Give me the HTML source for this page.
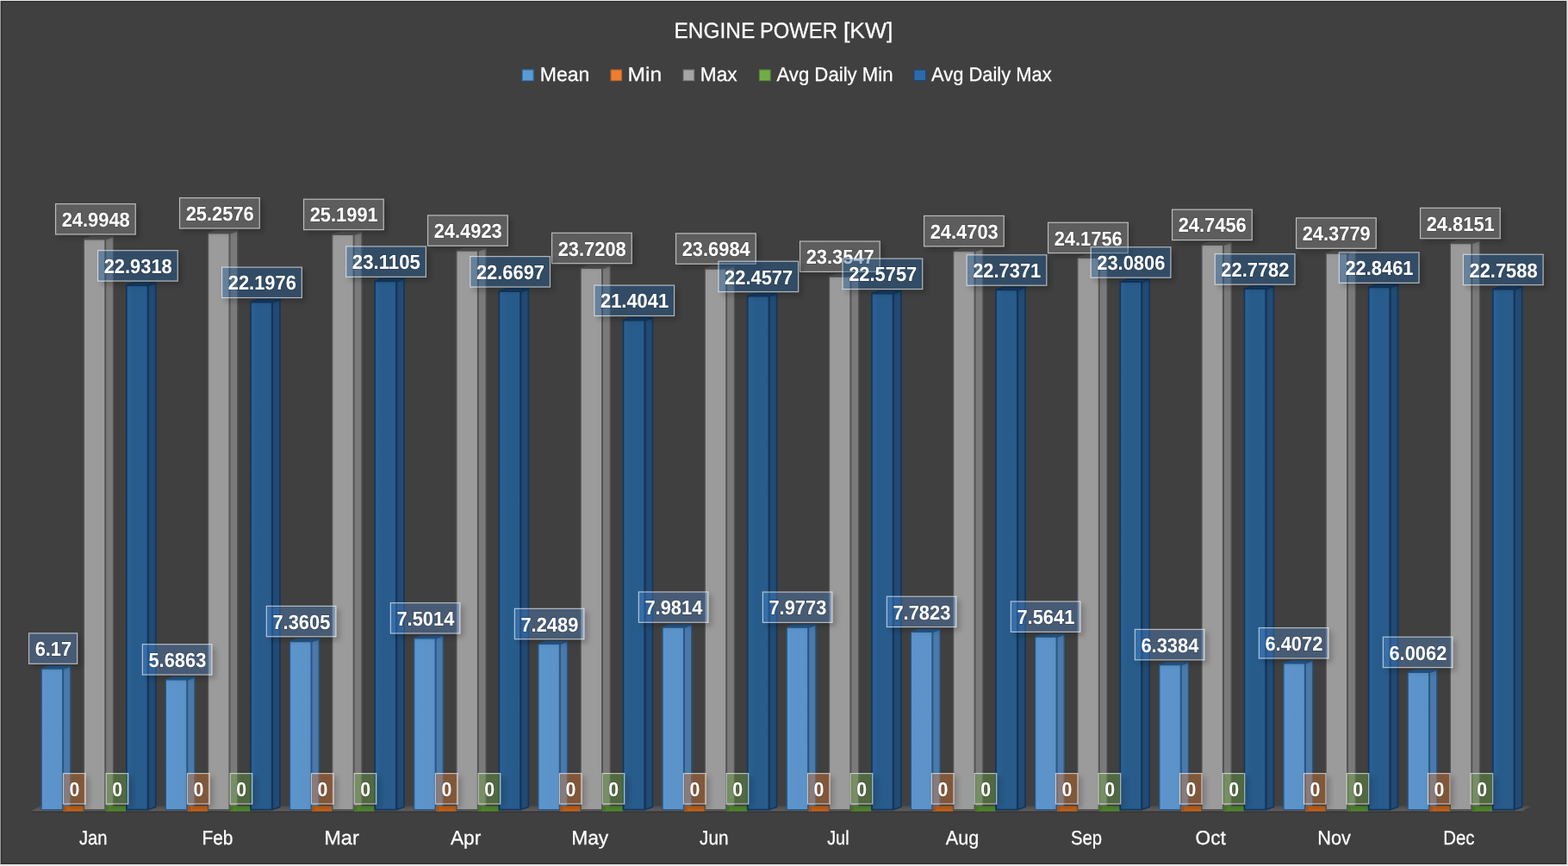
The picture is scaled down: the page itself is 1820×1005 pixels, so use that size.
<!DOCTYPE html>
<html lang="en"><head><meta charset="utf-8"><title>Engine Power [kW]</title>
<style>
html,body{margin:0;padding:0;background:#404040;overflow:hidden}
body{width:1820px;height:1005px}
svg{display:block}
text{font-family:"Liberation Sans",sans-serif;fill:#fff;text-rendering:geometricPrecision}
.dl{font-weight:bold;font-size:23.4px;stroke:#000;stroke-opacity:0.16;stroke-width:1.6px;paint-order:stroke}
.ax{font-size:22.8px;fill:#fff;stroke:#fff;stroke-width:0.25px}
.lg{font-size:22.8px;fill:#fff;stroke:#fff;stroke-width:0.25px}
.tt{font-size:25.4px;fill:#fff;stroke:#fff;stroke-width:0.25px}
</style></head><body>
<svg width="1820" height="1005" viewBox="0 0 1820 1005" role="img" aria-label="Engine Power [kW] by month">
<defs>
<filter id="sh" x="-40%" y="-50%" width="200%" height="220%"><feGaussianBlur in="SourceAlpha" stdDeviation="3.4"/><feOffset dx="4" dy="4"/><feComponentTransfer><feFuncA type="linear" slope="0.21"/></feComponentTransfer><feComposite in2="SourceAlpha" operator="out"/></filter>
<linearGradient id="fl" x1="0" y1="0" x2="0" y2="1"><stop offset="0" stop-color="#4c4a4a"/><stop offset="1" stop-color="#646060"/></linearGradient>
<linearGradient id="g0" x1="0" y1="0" x2="1" y2="0"><stop offset="0" stop-color="#5b95cd"/><stop offset="1" stop-color="#5c92c6"/></linearGradient>
<linearGradient id="g4" x1="0" y1="0" x2="1" y2="0"><stop offset="0" stop-color="#2b6195"/><stop offset="0.35" stop-color="#275b8b"/><stop offset="1" stop-color="#295c8b"/></linearGradient>
</defs>
<rect x="0" y="0" width="1820" height="1005" fill="#e6e6e6"/>
<rect x="0" y="1" width="1.2" height="1002" fill="#9a9a9a"/>
<rect x="1" y="1" width="1817.4" height="1002" fill="#333"/>
<rect x="2" y="2" width="1815.4" height="1000" fill="#383838"/>
<rect x="3" y="3" width="1813.6" height="998.2" fill="#404040"/>
<g>
<rect x="4" y="4" width="1812" height="996" fill="#404040"/>
<text class="tt" y="44.3"><tspan x="782.5" textLength="93.8" lengthAdjust="spacingAndGlyphs">ENGINE</tspan> <tspan x="881.9" textLength="90.0" lengthAdjust="spacingAndGlyphs">POWER</tspan> <tspan x="978.9" textLength="57.4" lengthAdjust="spacingAndGlyphs">[KW]</tspan></text>
<rect x="606.35" y="81.05" width="12.7" height="12.5" fill="#5b9bd5" stroke="#3a74ad" stroke-width="1.1"/>
<text class="lg" x="626.8" y="93.9" textLength="57.6" lengthAdjust="spacingAndGlyphs">Mean</text>
<rect x="709.05" y="81.05" width="12.5" height="12.5" fill="#ed7d31" stroke="#b4632a" stroke-width="1.1"/>
<text class="lg" x="728.6" y="93.9" textLength="39.6" lengthAdjust="spacingAndGlyphs">Min</text>
<rect x="793.15" y="81.05" width="12.5" height="12.5" fill="#a5a5a5" stroke="#7a7a7a" stroke-width="1.1"/>
<text class="lg" x="812.8" y="93.9" textLength="42.8" lengthAdjust="spacingAndGlyphs">Max</text>
<rect x="881.45" y="81.05" width="12.7" height="12.5" fill="#70ad47" stroke="#55853a" stroke-width="1.1"/>
<text class="lg" x="901.4" y="93.9" textLength="135.2" lengthAdjust="spacingAndGlyphs">Avg Daily Min</text>
<rect x="1060.95" y="81.05" width="13.7" height="12.5" fill="#2b6bab" stroke="#1d4670" stroke-width="1.1"/>
<text class="lg" x="1081" y="93.9" textLength="139.6" lengthAdjust="spacingAndGlyphs">Avg Daily Max</text>
<polygon points="35.5,941.8 47,935.2 1777.5,935.2 1766,941.8" fill="url(#fl)"/>
<rect x="36" y="941.3" width="1730" height="1.9" fill="#393939"/>
<polygon points="73.45,776.03 81.75,773.03 81.75,936.55 73.45,939.55" fill="#4a79aa" stroke="#255789" stroke-width="1.3" stroke-linejoin="round"/>
<polygon points="48.15,776.03 56.45,773.03 81.75,773.03 73.45,776.03" fill="#28578a" stroke="#255789" stroke-width="1.3" stroke-linejoin="round"/>
<rect x="48.15" y="776.03" width="24.6" height="163.52" fill="url(#g0)" stroke="#255789" stroke-width="1.3" stroke-linejoin="round"/>
<rect x="73.7" y="935.2" width="23.2" height="6.4" fill="#c4631a"/>
<rect x="73.7" y="935.2" width="3.2" height="6.4" fill="#aa551b"/>
<polygon points="122.65,277.74 131.55,274.74 131.55,936.55 122.65,939.55" fill="#7a7a7a" stroke="#545454" stroke-width="1.3" stroke-linejoin="round"/>
<polygon points="97.35,277.74 106.25,274.74 131.55,274.74 122.65,277.74" fill="#505050" stroke="#545454" stroke-width="1.3" stroke-linejoin="round"/>
<rect x="97.35" y="277.74" width="24.6" height="661.81" fill="#9b9b9b" stroke="#545454" stroke-width="1.3" stroke-linejoin="round"/>
<rect x="122.9" y="935.2" width="23.2" height="6.4" fill="#528830"/>
<rect x="122.9" y="935.2" width="3.2" height="6.4" fill="#46772a"/>
<polygon points="172.15,331.15 180.75,328.15 180.75,936.55 172.15,939.55" fill="#224a73" stroke="#12375d" stroke-width="1.7" stroke-linejoin="round"/>
<polygon points="146.85,331.15 155.45,328.15 180.75,328.15 172.15,331.15" fill="#1a426c" stroke="#12375d" stroke-width="1.7" stroke-linejoin="round"/>
<rect x="146.85" y="331.15" width="24.6" height="608.4" fill="url(#g4)" stroke="#12375d" stroke-width="1.7" stroke-linejoin="round"/>
<polygon points="217.63,788.83 225.93,785.83 225.93,936.55 217.63,939.55" fill="#4a79aa" stroke="#255789" stroke-width="1.3" stroke-linejoin="round"/>
<polygon points="192.33,788.83 200.63,785.83 225.93,785.83 217.63,788.83" fill="#28578a" stroke="#255789" stroke-width="1.3" stroke-linejoin="round"/>
<rect x="192.33" y="788.83" width="24.6" height="150.72" fill="url(#g0)" stroke="#255789" stroke-width="1.3" stroke-linejoin="round"/>
<rect x="217.88" y="935.2" width="23.2" height="6.4" fill="#c4631a"/>
<rect x="217.88" y="935.2" width="3.2" height="6.4" fill="#aa551b"/>
<polygon points="266.83,270.78 275.73,267.78 275.73,936.55 266.83,939.55" fill="#7a7a7a" stroke="#545454" stroke-width="1.3" stroke-linejoin="round"/>
<polygon points="241.53,270.78 250.43,267.78 275.73,267.78 266.83,270.78" fill="#505050" stroke="#545454" stroke-width="1.3" stroke-linejoin="round"/>
<rect x="241.53" y="270.78" width="24.6" height="668.77" fill="#9b9b9b" stroke="#545454" stroke-width="1.3" stroke-linejoin="round"/>
<rect x="267.08" y="935.2" width="23.2" height="6.4" fill="#528830"/>
<rect x="267.08" y="935.2" width="3.2" height="6.4" fill="#46772a"/>
<polygon points="316.33,350.58 324.93,347.58 324.93,936.55 316.33,939.55" fill="#224a73" stroke="#12375d" stroke-width="1.7" stroke-linejoin="round"/>
<polygon points="291.03,350.58 299.63,347.58 324.93,347.58 316.33,350.58" fill="#1a426c" stroke="#12375d" stroke-width="1.7" stroke-linejoin="round"/>
<rect x="291.03" y="350.58" width="24.6" height="588.97" fill="url(#g4)" stroke="#12375d" stroke-width="1.7" stroke-linejoin="round"/>
<polygon points="361.81,744.52 370.11,741.52 370.11,936.55 361.81,939.55" fill="#4a79aa" stroke="#255789" stroke-width="1.3" stroke-linejoin="round"/>
<polygon points="336.51,744.52 344.81,741.52 370.11,741.52 361.81,744.52" fill="#28578a" stroke="#255789" stroke-width="1.3" stroke-linejoin="round"/>
<rect x="336.51" y="744.52" width="24.6" height="195.03" fill="url(#g0)" stroke="#255789" stroke-width="1.3" stroke-linejoin="round"/>
<rect x="362.06" y="935.2" width="23.2" height="6.4" fill="#c4631a"/>
<rect x="362.06" y="935.2" width="3.2" height="6.4" fill="#aa551b"/>
<polygon points="411.01,272.33 419.91,269.33 419.91,936.55 411.01,939.55" fill="#7a7a7a" stroke="#545454" stroke-width="1.3" stroke-linejoin="round"/>
<polygon points="385.71,272.33 394.61,269.33 419.91,269.33 411.01,272.33" fill="#505050" stroke="#545454" stroke-width="1.3" stroke-linejoin="round"/>
<rect x="385.71" y="272.33" width="24.6" height="667.22" fill="#9b9b9b" stroke="#545454" stroke-width="1.3" stroke-linejoin="round"/>
<rect x="411.26" y="935.2" width="23.2" height="6.4" fill="#528830"/>
<rect x="411.26" y="935.2" width="3.2" height="6.4" fill="#46772a"/>
<polygon points="460.51,326.42 469.11,323.42 469.11,936.55 460.51,939.55" fill="#224a73" stroke="#12375d" stroke-width="1.7" stroke-linejoin="round"/>
<polygon points="435.21,326.42 443.81,323.42 469.11,323.42 460.51,326.42" fill="#1a426c" stroke="#12375d" stroke-width="1.7" stroke-linejoin="round"/>
<rect x="435.21" y="326.42" width="24.6" height="613.13" fill="url(#g4)" stroke="#12375d" stroke-width="1.7" stroke-linejoin="round"/>
<polygon points="505.99,740.79 514.29,737.79 514.29,936.55 505.99,939.55" fill="#4a79aa" stroke="#255789" stroke-width="1.3" stroke-linejoin="round"/>
<polygon points="480.69,740.79 488.99,737.79 514.29,737.79 505.99,740.79" fill="#28578a" stroke="#255789" stroke-width="1.3" stroke-linejoin="round"/>
<rect x="480.69" y="740.79" width="24.6" height="198.76" fill="url(#g0)" stroke="#255789" stroke-width="1.3" stroke-linejoin="round"/>
<rect x="506.24" y="935.2" width="23.2" height="6.4" fill="#c4631a"/>
<rect x="506.24" y="935.2" width="3.2" height="6.4" fill="#aa551b"/>
<polygon points="555.19,291.04 564.09,288.04 564.09,936.55 555.19,939.55" fill="#7a7a7a" stroke="#545454" stroke-width="1.3" stroke-linejoin="round"/>
<polygon points="529.89,291.04 538.79,288.04 564.09,288.04 555.19,291.04" fill="#505050" stroke="#545454" stroke-width="1.3" stroke-linejoin="round"/>
<rect x="529.89" y="291.04" width="24.6" height="648.51" fill="#9b9b9b" stroke="#545454" stroke-width="1.3" stroke-linejoin="round"/>
<rect x="555.44" y="935.2" width="23.2" height="6.4" fill="#528830"/>
<rect x="555.44" y="935.2" width="3.2" height="6.4" fill="#46772a"/>
<polygon points="604.69,338.08 613.29,335.08 613.29,936.55 604.69,939.55" fill="#224a73" stroke="#12375d" stroke-width="1.7" stroke-linejoin="round"/>
<polygon points="579.39,338.08 587.99,335.08 613.29,335.08 604.69,338.08" fill="#1a426c" stroke="#12375d" stroke-width="1.7" stroke-linejoin="round"/>
<rect x="579.39" y="338.08" width="24.6" height="601.47" fill="url(#g4)" stroke="#12375d" stroke-width="1.7" stroke-linejoin="round"/>
<polygon points="650.17,747.47 658.47,744.47 658.47,936.55 650.17,939.55" fill="#4a79aa" stroke="#255789" stroke-width="1.3" stroke-linejoin="round"/>
<polygon points="624.87,747.47 633.17,744.47 658.47,744.47 650.17,747.47" fill="#28578a" stroke="#255789" stroke-width="1.3" stroke-linejoin="round"/>
<rect x="624.87" y="747.47" width="24.6" height="192.08" fill="url(#g0)" stroke="#255789" stroke-width="1.3" stroke-linejoin="round"/>
<rect x="650.42" y="935.2" width="23.2" height="6.4" fill="#c4631a"/>
<rect x="650.42" y="935.2" width="3.2" height="6.4" fill="#aa551b"/>
<polygon points="699.37,311.46 708.27,308.46 708.27,936.55 699.37,939.55" fill="#7a7a7a" stroke="#545454" stroke-width="1.3" stroke-linejoin="round"/>
<polygon points="674.07,311.46 682.97,308.46 708.27,308.46 699.37,311.46" fill="#505050" stroke="#545454" stroke-width="1.3" stroke-linejoin="round"/>
<rect x="674.07" y="311.46" width="24.6" height="628.09" fill="#9b9b9b" stroke="#545454" stroke-width="1.3" stroke-linejoin="round"/>
<rect x="699.62" y="935.2" width="23.2" height="6.4" fill="#528830"/>
<rect x="699.62" y="935.2" width="3.2" height="6.4" fill="#46772a"/>
<polygon points="748.87,371.58 757.47,368.58 757.47,936.55 748.87,939.55" fill="#224a73" stroke="#12375d" stroke-width="1.7" stroke-linejoin="round"/>
<polygon points="723.57,371.58 732.17,368.58 757.47,368.58 748.87,371.58" fill="#1a426c" stroke="#12375d" stroke-width="1.7" stroke-linejoin="round"/>
<rect x="723.57" y="371.58" width="24.6" height="567.97" fill="url(#g4)" stroke="#12375d" stroke-width="1.7" stroke-linejoin="round"/>
<polygon points="794.35,728.08 802.65,725.08 802.65,936.55 794.35,939.55" fill="#4a79aa" stroke="#255789" stroke-width="1.3" stroke-linejoin="round"/>
<polygon points="769.05,728.08 777.35,725.08 802.65,725.08 794.35,728.08" fill="#28578a" stroke="#255789" stroke-width="1.3" stroke-linejoin="round"/>
<rect x="769.05" y="728.08" width="24.6" height="211.47" fill="url(#g0)" stroke="#255789" stroke-width="1.3" stroke-linejoin="round"/>
<rect x="794.6" y="935.2" width="23.2" height="6.4" fill="#c4631a"/>
<rect x="794.6" y="935.2" width="3.2" height="6.4" fill="#aa551b"/>
<polygon points="843.55,312.05 852.45,309.05 852.45,936.55 843.55,939.55" fill="#7a7a7a" stroke="#545454" stroke-width="1.3" stroke-linejoin="round"/>
<polygon points="818.25,312.05 827.15,309.05 852.45,309.05 843.55,312.05" fill="#505050" stroke="#545454" stroke-width="1.3" stroke-linejoin="round"/>
<rect x="818.25" y="312.05" width="24.6" height="627.5" fill="#9b9b9b" stroke="#545454" stroke-width="1.3" stroke-linejoin="round"/>
<rect x="843.8" y="935.2" width="23.2" height="6.4" fill="#528830"/>
<rect x="843.8" y="935.2" width="3.2" height="6.4" fill="#46772a"/>
<polygon points="893.05,343.69 901.65,340.69 901.65,936.55 893.05,939.55" fill="#224a73" stroke="#12375d" stroke-width="1.7" stroke-linejoin="round"/>
<polygon points="867.75,343.69 876.35,340.69 901.65,340.69 893.05,343.69" fill="#1a426c" stroke="#12375d" stroke-width="1.7" stroke-linejoin="round"/>
<rect x="867.75" y="343.69" width="24.6" height="595.86" fill="url(#g4)" stroke="#12375d" stroke-width="1.7" stroke-linejoin="round"/>
<polygon points="938.53,728.19 946.83,725.19 946.83,936.55 938.53,939.55" fill="#4a79aa" stroke="#255789" stroke-width="1.3" stroke-linejoin="round"/>
<polygon points="913.23,728.19 921.53,725.19 946.83,725.19 938.53,728.19" fill="#28578a" stroke="#255789" stroke-width="1.3" stroke-linejoin="round"/>
<rect x="913.23" y="728.19" width="24.6" height="211.36" fill="url(#g0)" stroke="#255789" stroke-width="1.3" stroke-linejoin="round"/>
<rect x="938.78" y="935.2" width="23.2" height="6.4" fill="#c4631a"/>
<rect x="938.78" y="935.2" width="3.2" height="6.4" fill="#aa551b"/>
<polygon points="987.73,321.15 996.63,318.15 996.63,936.55 987.73,939.55" fill="#7a7a7a" stroke="#545454" stroke-width="1.3" stroke-linejoin="round"/>
<polygon points="962.43,321.15 971.33,318.15 996.63,318.15 987.73,321.15" fill="#505050" stroke="#545454" stroke-width="1.3" stroke-linejoin="round"/>
<rect x="962.43" y="321.15" width="24.6" height="618.4" fill="#9b9b9b" stroke="#545454" stroke-width="1.3" stroke-linejoin="round"/>
<rect x="987.98" y="935.2" width="23.2" height="6.4" fill="#528830"/>
<rect x="987.98" y="935.2" width="3.2" height="6.4" fill="#46772a"/>
<polygon points="1037.23,340.57 1045.83,337.57 1045.83,936.55 1037.23,939.55" fill="#224a73" stroke="#12375d" stroke-width="1.7" stroke-linejoin="round"/>
<polygon points="1011.93,340.57 1020.53,337.57 1045.83,337.57 1037.23,340.57" fill="#1a426c" stroke="#12375d" stroke-width="1.7" stroke-linejoin="round"/>
<rect x="1011.93" y="340.57" width="24.6" height="598.98" fill="url(#g4)" stroke="#12375d" stroke-width="1.7" stroke-linejoin="round"/>
<polygon points="1082.71,733.35 1091.01,730.35 1091.01,936.55 1082.71,939.55" fill="#4a79aa" stroke="#255789" stroke-width="1.3" stroke-linejoin="round"/>
<polygon points="1057.41,733.35 1065.71,730.35 1091.01,730.35 1082.71,733.35" fill="#28578a" stroke="#255789" stroke-width="1.3" stroke-linejoin="round"/>
<rect x="1057.41" y="733.35" width="24.6" height="206.2" fill="url(#g0)" stroke="#255789" stroke-width="1.3" stroke-linejoin="round"/>
<rect x="1082.96" y="935.2" width="23.2" height="6.4" fill="#c4631a"/>
<rect x="1082.96" y="935.2" width="3.2" height="6.4" fill="#aa551b"/>
<polygon points="1131.91,291.62 1140.81,288.62 1140.81,936.55 1131.91,939.55" fill="#7a7a7a" stroke="#545454" stroke-width="1.3" stroke-linejoin="round"/>
<polygon points="1106.61,291.62 1115.51,288.62 1140.81,288.62 1131.91,291.62" fill="#505050" stroke="#545454" stroke-width="1.3" stroke-linejoin="round"/>
<rect x="1106.61" y="291.62" width="24.6" height="647.93" fill="#9b9b9b" stroke="#545454" stroke-width="1.3" stroke-linejoin="round"/>
<rect x="1132.16" y="935.2" width="23.2" height="6.4" fill="#528830"/>
<rect x="1132.16" y="935.2" width="3.2" height="6.4" fill="#46772a"/>
<polygon points="1181.41,336.3 1190.01,333.3 1190.01,936.55 1181.41,939.55" fill="#224a73" stroke="#12375d" stroke-width="1.7" stroke-linejoin="round"/>
<polygon points="1156.11,336.3 1164.71,333.3 1190.01,333.3 1181.41,336.3" fill="#1a426c" stroke="#12375d" stroke-width="1.7" stroke-linejoin="round"/>
<rect x="1156.11" y="336.3" width="24.6" height="603.25" fill="url(#g4)" stroke="#12375d" stroke-width="1.7" stroke-linejoin="round"/>
<polygon points="1226.89,739.13 1235.19,736.13 1235.19,936.55 1226.89,939.55" fill="#4a79aa" stroke="#255789" stroke-width="1.3" stroke-linejoin="round"/>
<polygon points="1201.59,739.13 1209.89,736.13 1235.19,736.13 1226.89,739.13" fill="#28578a" stroke="#255789" stroke-width="1.3" stroke-linejoin="round"/>
<rect x="1201.59" y="739.13" width="24.6" height="200.42" fill="url(#g0)" stroke="#255789" stroke-width="1.3" stroke-linejoin="round"/>
<rect x="1227.14" y="935.2" width="23.2" height="6.4" fill="#c4631a"/>
<rect x="1227.14" y="935.2" width="3.2" height="6.4" fill="#aa551b"/>
<polygon points="1276.09,299.42 1284.99,296.42 1284.99,936.55 1276.09,939.55" fill="#7a7a7a" stroke="#545454" stroke-width="1.3" stroke-linejoin="round"/>
<polygon points="1250.79,299.42 1259.69,296.42 1284.99,296.42 1276.09,299.42" fill="#505050" stroke="#545454" stroke-width="1.3" stroke-linejoin="round"/>
<rect x="1250.79" y="299.42" width="24.6" height="640.13" fill="#9b9b9b" stroke="#545454" stroke-width="1.3" stroke-linejoin="round"/>
<rect x="1276.34" y="935.2" width="23.2" height="6.4" fill="#528830"/>
<rect x="1276.34" y="935.2" width="3.2" height="6.4" fill="#46772a"/>
<polygon points="1325.59,327.21 1334.19,324.21 1334.19,936.55 1325.59,939.55" fill="#224a73" stroke="#12375d" stroke-width="1.7" stroke-linejoin="round"/>
<polygon points="1300.29,327.21 1308.89,324.21 1334.19,324.21 1325.59,327.21" fill="#1a426c" stroke="#12375d" stroke-width="1.7" stroke-linejoin="round"/>
<rect x="1300.29" y="327.21" width="24.6" height="612.34" fill="url(#g4)" stroke="#12375d" stroke-width="1.7" stroke-linejoin="round"/>
<polygon points="1371.07,771.57 1379.37,768.57 1379.37,936.55 1371.07,939.55" fill="#4a79aa" stroke="#255789" stroke-width="1.3" stroke-linejoin="round"/>
<polygon points="1345.77,771.57 1354.07,768.57 1379.37,768.57 1371.07,771.57" fill="#28578a" stroke="#255789" stroke-width="1.3" stroke-linejoin="round"/>
<rect x="1345.77" y="771.57" width="24.6" height="167.98" fill="url(#g0)" stroke="#255789" stroke-width="1.3" stroke-linejoin="round"/>
<rect x="1371.32" y="935.2" width="23.2" height="6.4" fill="#c4631a"/>
<rect x="1371.32" y="935.2" width="3.2" height="6.4" fill="#aa551b"/>
<polygon points="1420.27,284.33 1429.17,281.33 1429.17,936.55 1420.27,939.55" fill="#7a7a7a" stroke="#545454" stroke-width="1.3" stroke-linejoin="round"/>
<polygon points="1394.97,284.33 1403.87,281.33 1429.17,281.33 1420.27,284.33" fill="#505050" stroke="#545454" stroke-width="1.3" stroke-linejoin="round"/>
<rect x="1394.97" y="284.33" width="24.6" height="655.22" fill="#9b9b9b" stroke="#545454" stroke-width="1.3" stroke-linejoin="round"/>
<rect x="1420.52" y="935.2" width="23.2" height="6.4" fill="#528830"/>
<rect x="1420.52" y="935.2" width="3.2" height="6.4" fill="#46772a"/>
<polygon points="1469.77,335.21 1478.37,332.21 1478.37,936.55 1469.77,939.55" fill="#224a73" stroke="#12375d" stroke-width="1.7" stroke-linejoin="round"/>
<polygon points="1444.47,335.21 1453.07,332.21 1478.37,332.21 1469.77,335.21" fill="#1a426c" stroke="#12375d" stroke-width="1.7" stroke-linejoin="round"/>
<rect x="1444.47" y="335.21" width="24.6" height="604.34" fill="url(#g4)" stroke="#12375d" stroke-width="1.7" stroke-linejoin="round"/>
<polygon points="1515.25,769.75 1523.55,766.75 1523.55,936.55 1515.25,939.55" fill="#4a79aa" stroke="#255789" stroke-width="1.3" stroke-linejoin="round"/>
<polygon points="1489.95,769.75 1498.25,766.75 1523.55,766.75 1515.25,769.75" fill="#28578a" stroke="#255789" stroke-width="1.3" stroke-linejoin="round"/>
<rect x="1489.95" y="769.75" width="24.6" height="169.8" fill="url(#g0)" stroke="#255789" stroke-width="1.3" stroke-linejoin="round"/>
<rect x="1515.5" y="935.2" width="23.2" height="6.4" fill="#c4631a"/>
<rect x="1515.5" y="935.2" width="3.2" height="6.4" fill="#aa551b"/>
<polygon points="1564.45,294.07 1573.35,291.07 1573.35,936.55 1564.45,939.55" fill="#7a7a7a" stroke="#545454" stroke-width="1.3" stroke-linejoin="round"/>
<polygon points="1539.15,294.07 1548.05,291.07 1573.35,291.07 1564.45,294.07" fill="#505050" stroke="#545454" stroke-width="1.3" stroke-linejoin="round"/>
<rect x="1539.15" y="294.07" width="24.6" height="645.48" fill="#9b9b9b" stroke="#545454" stroke-width="1.3" stroke-linejoin="round"/>
<rect x="1564.7" y="935.2" width="23.2" height="6.4" fill="#528830"/>
<rect x="1564.7" y="935.2" width="3.2" height="6.4" fill="#46772a"/>
<polygon points="1613.95,333.41 1622.55,330.41 1622.55,936.55 1613.95,939.55" fill="#224a73" stroke="#12375d" stroke-width="1.7" stroke-linejoin="round"/>
<polygon points="1588.65,333.41 1597.25,330.41 1622.55,330.41 1613.95,333.41" fill="#1a426c" stroke="#12375d" stroke-width="1.7" stroke-linejoin="round"/>
<rect x="1588.65" y="333.41" width="24.6" height="606.14" fill="url(#g4)" stroke="#12375d" stroke-width="1.7" stroke-linejoin="round"/>
<polygon points="1659.43,780.37 1667.73,777.37 1667.73,936.55 1659.43,939.55" fill="#4a79aa" stroke="#255789" stroke-width="1.3" stroke-linejoin="round"/>
<polygon points="1634.13,780.37 1642.43,777.37 1667.73,777.37 1659.43,780.37" fill="#28578a" stroke="#255789" stroke-width="1.3" stroke-linejoin="round"/>
<rect x="1634.13" y="780.37" width="24.6" height="159.18" fill="url(#g0)" stroke="#255789" stroke-width="1.3" stroke-linejoin="round"/>
<rect x="1659.68" y="935.2" width="23.2" height="6.4" fill="#c4631a"/>
<rect x="1659.68" y="935.2" width="3.2" height="6.4" fill="#aa551b"/>
<polygon points="1708.63,282.49 1717.53,279.49 1717.53,936.55 1708.63,939.55" fill="#7a7a7a" stroke="#545454" stroke-width="1.3" stroke-linejoin="round"/>
<polygon points="1683.33,282.49 1692.23,279.49 1717.53,279.49 1708.63,282.49" fill="#505050" stroke="#545454" stroke-width="1.3" stroke-linejoin="round"/>
<rect x="1683.33" y="282.49" width="24.6" height="657.06" fill="#9b9b9b" stroke="#545454" stroke-width="1.3" stroke-linejoin="round"/>
<rect x="1708.88" y="935.2" width="23.2" height="6.4" fill="#528830"/>
<rect x="1708.88" y="935.2" width="3.2" height="6.4" fill="#46772a"/>
<polygon points="1758.13,335.72 1766.73,332.72 1766.73,936.55 1758.13,939.55" fill="#224a73" stroke="#12375d" stroke-width="1.7" stroke-linejoin="round"/>
<polygon points="1732.83,335.72 1741.43,332.72 1766.73,332.72 1758.13,335.72" fill="#1a426c" stroke="#12375d" stroke-width="1.7" stroke-linejoin="round"/>
<rect x="1732.83" y="335.72" width="24.6" height="603.83" fill="url(#g4)" stroke="#12375d" stroke-width="1.7" stroke-linejoin="round"/>
<rect x="32.95" y="734.28" width="57.3" height="36.6" filter="url(#sh)"/>
<rect x="33.55" y="734.88" width="56.1" height="35.4" fill="#5b9df0" fill-opacity="0.3" stroke="#ffffff" stroke-opacity="0.62" stroke-width="1.2"/>
<text class="dl" x="61.9" y="761.18" text-anchor="middle" textLength="42.5" lengthAdjust="spacingAndGlyphs">6.17</text>
<rect x="164.75" y="747.08" width="81.7" height="36.6" filter="url(#sh)"/>
<rect x="165.35" y="747.68" width="80.5" height="35.4" fill="#5b9df0" fill-opacity="0.3" stroke="#ffffff" stroke-opacity="0.62" stroke-width="1.2"/>
<text class="dl" x="205.9" y="773.98" text-anchor="middle" textLength="66.9" lengthAdjust="spacingAndGlyphs">5.6863</text>
<rect x="308.75" y="702.77" width="81.7" height="36.6" filter="url(#sh)"/>
<rect x="309.35" y="703.37" width="80.5" height="35.4" fill="#5b9df0" fill-opacity="0.3" stroke="#ffffff" stroke-opacity="0.62" stroke-width="1.2"/>
<text class="dl" x="349.9" y="729.67" text-anchor="middle" textLength="66.9" lengthAdjust="spacingAndGlyphs">7.3605</text>
<rect x="452.75" y="699.04" width="81.7" height="36.6" filter="url(#sh)"/>
<rect x="453.35" y="699.64" width="80.5" height="35.4" fill="#5b9df0" fill-opacity="0.3" stroke="#ffffff" stroke-opacity="0.62" stroke-width="1.2"/>
<text class="dl" x="493.9" y="725.94" text-anchor="middle" textLength="66.9" lengthAdjust="spacingAndGlyphs">7.5014</text>
<rect x="596.75" y="705.72" width="81.7" height="36.6" filter="url(#sh)"/>
<rect x="597.35" y="706.32" width="80.5" height="35.4" fill="#5b9df0" fill-opacity="0.3" stroke="#ffffff" stroke-opacity="0.62" stroke-width="1.2"/>
<text class="dl" x="637.9" y="732.62" text-anchor="middle" textLength="66.9" lengthAdjust="spacingAndGlyphs">7.2489</text>
<rect x="740.75" y="686.33" width="81.7" height="36.6" filter="url(#sh)"/>
<rect x="741.35" y="686.93" width="80.5" height="35.4" fill="#5b9df0" fill-opacity="0.3" stroke="#ffffff" stroke-opacity="0.62" stroke-width="1.2"/>
<text class="dl" x="781.9" y="713.23" text-anchor="middle" textLength="66.9" lengthAdjust="spacingAndGlyphs">7.9814</text>
<rect x="884.75" y="686.44" width="81.7" height="36.6" filter="url(#sh)"/>
<rect x="885.35" y="687.04" width="80.5" height="35.4" fill="#5b9df0" fill-opacity="0.3" stroke="#ffffff" stroke-opacity="0.62" stroke-width="1.2"/>
<text class="dl" x="925.9" y="713.34" text-anchor="middle" textLength="66.9" lengthAdjust="spacingAndGlyphs">7.9773</text>
<rect x="1028.75" y="691.6" width="81.7" height="36.6" filter="url(#sh)"/>
<rect x="1029.35" y="692.2" width="80.5" height="35.4" fill="#5b9df0" fill-opacity="0.3" stroke="#ffffff" stroke-opacity="0.62" stroke-width="1.2"/>
<text class="dl" x="1069.9" y="718.5" text-anchor="middle" textLength="66.9" lengthAdjust="spacingAndGlyphs">7.7823</text>
<rect x="1172.75" y="697.38" width="81.7" height="36.6" filter="url(#sh)"/>
<rect x="1173.35" y="697.98" width="80.5" height="35.4" fill="#5b9df0" fill-opacity="0.3" stroke="#ffffff" stroke-opacity="0.62" stroke-width="1.2"/>
<text class="dl" x="1213.9" y="724.28" text-anchor="middle" textLength="66.9" lengthAdjust="spacingAndGlyphs">7.5641</text>
<rect x="1316.75" y="729.82" width="81.7" height="36.6" filter="url(#sh)"/>
<rect x="1317.35" y="730.42" width="80.5" height="35.4" fill="#5b9df0" fill-opacity="0.3" stroke="#ffffff" stroke-opacity="0.62" stroke-width="1.2"/>
<text class="dl" x="1357.9" y="756.72" text-anchor="middle" textLength="66.9" lengthAdjust="spacingAndGlyphs">6.3384</text>
<rect x="1460.75" y="728" width="81.7" height="36.6" filter="url(#sh)"/>
<rect x="1461.35" y="728.6" width="80.5" height="35.4" fill="#5b9df0" fill-opacity="0.3" stroke="#ffffff" stroke-opacity="0.62" stroke-width="1.2"/>
<text class="dl" x="1501.9" y="754.9" text-anchor="middle" textLength="66.9" lengthAdjust="spacingAndGlyphs">6.4072</text>
<rect x="1604.75" y="738.62" width="81.7" height="36.6" filter="url(#sh)"/>
<rect x="1605.35" y="739.22" width="80.5" height="35.4" fill="#5b9df0" fill-opacity="0.3" stroke="#ffffff" stroke-opacity="0.62" stroke-width="1.2"/>
<text class="dl" x="1645.9" y="765.52" text-anchor="middle" textLength="66.9" lengthAdjust="spacingAndGlyphs">6.0062</text>
<rect x="72.9" y="897" width="26.7" height="36.6" filter="url(#sh)"/>
<rect x="73.5" y="897.6" width="25.5" height="35.4" fill="#ed7d31" fill-opacity="0.38" stroke="#ffffff" stroke-opacity="0.62" stroke-width="1.2"/>
<text class="dl" x="86.55" y="923.9" text-anchor="middle" textLength="11.9" lengthAdjust="spacingAndGlyphs">0</text>
<rect x="216.9" y="897" width="26.7" height="36.6" filter="url(#sh)"/>
<rect x="217.5" y="897.6" width="25.5" height="35.4" fill="#ed7d31" fill-opacity="0.38" stroke="#ffffff" stroke-opacity="0.62" stroke-width="1.2"/>
<text class="dl" x="230.55" y="923.9" text-anchor="middle" textLength="11.9" lengthAdjust="spacingAndGlyphs">0</text>
<rect x="360.9" y="897" width="26.7" height="36.6" filter="url(#sh)"/>
<rect x="361.5" y="897.6" width="25.5" height="35.4" fill="#ed7d31" fill-opacity="0.38" stroke="#ffffff" stroke-opacity="0.62" stroke-width="1.2"/>
<text class="dl" x="374.55" y="923.9" text-anchor="middle" textLength="11.9" lengthAdjust="spacingAndGlyphs">0</text>
<rect x="504.9" y="897" width="26.7" height="36.6" filter="url(#sh)"/>
<rect x="505.5" y="897.6" width="25.5" height="35.4" fill="#ed7d31" fill-opacity="0.38" stroke="#ffffff" stroke-opacity="0.62" stroke-width="1.2"/>
<text class="dl" x="518.55" y="923.9" text-anchor="middle" textLength="11.9" lengthAdjust="spacingAndGlyphs">0</text>
<rect x="648.9" y="897" width="26.7" height="36.6" filter="url(#sh)"/>
<rect x="649.5" y="897.6" width="25.5" height="35.4" fill="#ed7d31" fill-opacity="0.38" stroke="#ffffff" stroke-opacity="0.62" stroke-width="1.2"/>
<text class="dl" x="662.55" y="923.9" text-anchor="middle" textLength="11.9" lengthAdjust="spacingAndGlyphs">0</text>
<rect x="792.9" y="897" width="26.7" height="36.6" filter="url(#sh)"/>
<rect x="793.5" y="897.6" width="25.5" height="35.4" fill="#ed7d31" fill-opacity="0.38" stroke="#ffffff" stroke-opacity="0.62" stroke-width="1.2"/>
<text class="dl" x="806.55" y="923.9" text-anchor="middle" textLength="11.9" lengthAdjust="spacingAndGlyphs">0</text>
<rect x="936.9" y="897" width="26.7" height="36.6" filter="url(#sh)"/>
<rect x="937.5" y="897.6" width="25.5" height="35.4" fill="#ed7d31" fill-opacity="0.38" stroke="#ffffff" stroke-opacity="0.62" stroke-width="1.2"/>
<text class="dl" x="950.55" y="923.9" text-anchor="middle" textLength="11.9" lengthAdjust="spacingAndGlyphs">0</text>
<rect x="1080.9" y="897" width="26.7" height="36.6" filter="url(#sh)"/>
<rect x="1081.5" y="897.6" width="25.5" height="35.4" fill="#ed7d31" fill-opacity="0.38" stroke="#ffffff" stroke-opacity="0.62" stroke-width="1.2"/>
<text class="dl" x="1094.55" y="923.9" text-anchor="middle" textLength="11.9" lengthAdjust="spacingAndGlyphs">0</text>
<rect x="1224.9" y="897" width="26.7" height="36.6" filter="url(#sh)"/>
<rect x="1225.5" y="897.6" width="25.5" height="35.4" fill="#ed7d31" fill-opacity="0.38" stroke="#ffffff" stroke-opacity="0.62" stroke-width="1.2"/>
<text class="dl" x="1238.55" y="923.9" text-anchor="middle" textLength="11.9" lengthAdjust="spacingAndGlyphs">0</text>
<rect x="1368.9" y="897" width="26.7" height="36.6" filter="url(#sh)"/>
<rect x="1369.5" y="897.6" width="25.5" height="35.4" fill="#ed7d31" fill-opacity="0.38" stroke="#ffffff" stroke-opacity="0.62" stroke-width="1.2"/>
<text class="dl" x="1382.55" y="923.9" text-anchor="middle" textLength="11.9" lengthAdjust="spacingAndGlyphs">0</text>
<rect x="1512.9" y="897" width="26.7" height="36.6" filter="url(#sh)"/>
<rect x="1513.5" y="897.6" width="25.5" height="35.4" fill="#ed7d31" fill-opacity="0.38" stroke="#ffffff" stroke-opacity="0.62" stroke-width="1.2"/>
<text class="dl" x="1526.55" y="923.9" text-anchor="middle" textLength="11.9" lengthAdjust="spacingAndGlyphs">0</text>
<rect x="1656.9" y="897" width="26.7" height="36.6" filter="url(#sh)"/>
<rect x="1657.5" y="897.6" width="25.5" height="35.4" fill="#ed7d31" fill-opacity="0.38" stroke="#ffffff" stroke-opacity="0.62" stroke-width="1.2"/>
<text class="dl" x="1670.55" y="923.9" text-anchor="middle" textLength="11.9" lengthAdjust="spacingAndGlyphs">0</text>
<rect x="63.95" y="235.99" width="93.9" height="36.6" filter="url(#sh)"/>
<rect x="64.55" y="236.59" width="92.7" height="35.4" fill="#a5a5a5" fill-opacity="0.29" stroke="#ffffff" stroke-opacity="0.62" stroke-width="1.2"/>
<text class="dl" x="111.2" y="262.89" text-anchor="middle" textLength="79.1" lengthAdjust="spacingAndGlyphs">24.9948</text>
<rect x="207.95" y="229.03" width="93.9" height="36.6" filter="url(#sh)"/>
<rect x="208.55" y="229.63" width="92.7" height="35.4" fill="#a5a5a5" fill-opacity="0.29" stroke="#ffffff" stroke-opacity="0.62" stroke-width="1.2"/>
<text class="dl" x="255.2" y="255.93" text-anchor="middle" textLength="79.1" lengthAdjust="spacingAndGlyphs">25.2576</text>
<rect x="351.95" y="230.58" width="93.9" height="36.6" filter="url(#sh)"/>
<rect x="352.55" y="231.18" width="92.7" height="35.4" fill="#a5a5a5" fill-opacity="0.29" stroke="#ffffff" stroke-opacity="0.62" stroke-width="1.2"/>
<text class="dl" x="399.2" y="257.48" text-anchor="middle" textLength="79.1" lengthAdjust="spacingAndGlyphs">25.1991</text>
<rect x="495.95" y="249.29" width="93.9" height="36.6" filter="url(#sh)"/>
<rect x="496.55" y="249.89" width="92.7" height="35.4" fill="#a5a5a5" fill-opacity="0.29" stroke="#ffffff" stroke-opacity="0.62" stroke-width="1.2"/>
<text class="dl" x="543.2" y="276.19" text-anchor="middle" textLength="79.1" lengthAdjust="spacingAndGlyphs">24.4923</text>
<rect x="639.95" y="269.71" width="93.9" height="36.6" filter="url(#sh)"/>
<rect x="640.55" y="270.31" width="92.7" height="35.4" fill="#a5a5a5" fill-opacity="0.29" stroke="#ffffff" stroke-opacity="0.62" stroke-width="1.2"/>
<text class="dl" x="687.2" y="296.61" text-anchor="middle" textLength="79.1" lengthAdjust="spacingAndGlyphs">23.7208</text>
<rect x="783.95" y="270.3" width="93.9" height="36.6" filter="url(#sh)"/>
<rect x="784.55" y="270.9" width="92.7" height="35.4" fill="#a5a5a5" fill-opacity="0.29" stroke="#ffffff" stroke-opacity="0.62" stroke-width="1.2"/>
<text class="dl" x="831.2" y="297.2" text-anchor="middle" textLength="79.1" lengthAdjust="spacingAndGlyphs">23.6984</text>
<rect x="927.95" y="279.4" width="93.9" height="36.6" filter="url(#sh)"/>
<rect x="928.55" y="280" width="92.7" height="35.4" fill="#a5a5a5" fill-opacity="0.29" stroke="#ffffff" stroke-opacity="0.62" stroke-width="1.2"/>
<text class="dl" x="975.2" y="306.3" text-anchor="middle" textLength="79.1" lengthAdjust="spacingAndGlyphs">23.3547</text>
<rect x="1071.95" y="249.87" width="93.9" height="36.6" filter="url(#sh)"/>
<rect x="1072.55" y="250.47" width="92.7" height="35.4" fill="#a5a5a5" fill-opacity="0.29" stroke="#ffffff" stroke-opacity="0.62" stroke-width="1.2"/>
<text class="dl" x="1119.2" y="276.77" text-anchor="middle" textLength="79.1" lengthAdjust="spacingAndGlyphs">24.4703</text>
<rect x="1215.95" y="257.67" width="93.9" height="36.6" filter="url(#sh)"/>
<rect x="1216.55" y="258.27" width="92.7" height="35.4" fill="#a5a5a5" fill-opacity="0.29" stroke="#ffffff" stroke-opacity="0.62" stroke-width="1.2"/>
<text class="dl" x="1263.2" y="284.57" text-anchor="middle" textLength="79.1" lengthAdjust="spacingAndGlyphs">24.1756</text>
<rect x="1359.95" y="242.58" width="93.9" height="36.6" filter="url(#sh)"/>
<rect x="1360.55" y="243.18" width="92.7" height="35.4" fill="#a5a5a5" fill-opacity="0.29" stroke="#ffffff" stroke-opacity="0.62" stroke-width="1.2"/>
<text class="dl" x="1407.2" y="269.48" text-anchor="middle" textLength="79.1" lengthAdjust="spacingAndGlyphs">24.7456</text>
<rect x="1503.95" y="252.32" width="93.9" height="36.6" filter="url(#sh)"/>
<rect x="1504.55" y="252.92" width="92.7" height="35.4" fill="#a5a5a5" fill-opacity="0.29" stroke="#ffffff" stroke-opacity="0.62" stroke-width="1.2"/>
<text class="dl" x="1551.2" y="279.22" text-anchor="middle" textLength="79.1" lengthAdjust="spacingAndGlyphs">24.3779</text>
<rect x="1647.95" y="240.74" width="93.9" height="36.6" filter="url(#sh)"/>
<rect x="1648.55" y="241.34" width="92.7" height="35.4" fill="#a5a5a5" fill-opacity="0.29" stroke="#ffffff" stroke-opacity="0.62" stroke-width="1.2"/>
<text class="dl" x="1695.2" y="267.64" text-anchor="middle" textLength="79.1" lengthAdjust="spacingAndGlyphs">24.8151</text>
<rect x="122.6" y="897" width="26.7" height="36.6" filter="url(#sh)"/>
<rect x="123.2" y="897.6" width="25.5" height="35.4" fill="#70b040" fill-opacity="0.36" stroke="#ffffff" stroke-opacity="0.62" stroke-width="1.2"/>
<text class="dl" x="136.25" y="923.9" text-anchor="middle" textLength="11.9" lengthAdjust="spacingAndGlyphs">0</text>
<rect x="266.6" y="897" width="26.7" height="36.6" filter="url(#sh)"/>
<rect x="267.2" y="897.6" width="25.5" height="35.4" fill="#70b040" fill-opacity="0.36" stroke="#ffffff" stroke-opacity="0.62" stroke-width="1.2"/>
<text class="dl" x="280.25" y="923.9" text-anchor="middle" textLength="11.9" lengthAdjust="spacingAndGlyphs">0</text>
<rect x="410.6" y="897" width="26.7" height="36.6" filter="url(#sh)"/>
<rect x="411.2" y="897.6" width="25.5" height="35.4" fill="#70b040" fill-opacity="0.36" stroke="#ffffff" stroke-opacity="0.62" stroke-width="1.2"/>
<text class="dl" x="424.25" y="923.9" text-anchor="middle" textLength="11.9" lengthAdjust="spacingAndGlyphs">0</text>
<rect x="554.6" y="897" width="26.7" height="36.6" filter="url(#sh)"/>
<rect x="555.2" y="897.6" width="25.5" height="35.4" fill="#70b040" fill-opacity="0.36" stroke="#ffffff" stroke-opacity="0.62" stroke-width="1.2"/>
<text class="dl" x="568.25" y="923.9" text-anchor="middle" textLength="11.9" lengthAdjust="spacingAndGlyphs">0</text>
<rect x="698.6" y="897" width="26.7" height="36.6" filter="url(#sh)"/>
<rect x="699.2" y="897.6" width="25.5" height="35.4" fill="#70b040" fill-opacity="0.36" stroke="#ffffff" stroke-opacity="0.62" stroke-width="1.2"/>
<text class="dl" x="712.25" y="923.9" text-anchor="middle" textLength="11.9" lengthAdjust="spacingAndGlyphs">0</text>
<rect x="842.6" y="897" width="26.7" height="36.6" filter="url(#sh)"/>
<rect x="843.2" y="897.6" width="25.5" height="35.4" fill="#70b040" fill-opacity="0.36" stroke="#ffffff" stroke-opacity="0.62" stroke-width="1.2"/>
<text class="dl" x="856.25" y="923.9" text-anchor="middle" textLength="11.9" lengthAdjust="spacingAndGlyphs">0</text>
<rect x="986.6" y="897" width="26.7" height="36.6" filter="url(#sh)"/>
<rect x="987.2" y="897.6" width="25.5" height="35.4" fill="#70b040" fill-opacity="0.36" stroke="#ffffff" stroke-opacity="0.62" stroke-width="1.2"/>
<text class="dl" x="1000.25" y="923.9" text-anchor="middle" textLength="11.9" lengthAdjust="spacingAndGlyphs">0</text>
<rect x="1130.6" y="897" width="26.7" height="36.6" filter="url(#sh)"/>
<rect x="1131.2" y="897.6" width="25.5" height="35.4" fill="#70b040" fill-opacity="0.36" stroke="#ffffff" stroke-opacity="0.62" stroke-width="1.2"/>
<text class="dl" x="1144.25" y="923.9" text-anchor="middle" textLength="11.9" lengthAdjust="spacingAndGlyphs">0</text>
<rect x="1274.6" y="897" width="26.7" height="36.6" filter="url(#sh)"/>
<rect x="1275.2" y="897.6" width="25.5" height="35.4" fill="#70b040" fill-opacity="0.36" stroke="#ffffff" stroke-opacity="0.62" stroke-width="1.2"/>
<text class="dl" x="1288.25" y="923.9" text-anchor="middle" textLength="11.9" lengthAdjust="spacingAndGlyphs">0</text>
<rect x="1418.6" y="897" width="26.7" height="36.6" filter="url(#sh)"/>
<rect x="1419.2" y="897.6" width="25.5" height="35.4" fill="#70b040" fill-opacity="0.36" stroke="#ffffff" stroke-opacity="0.62" stroke-width="1.2"/>
<text class="dl" x="1432.25" y="923.9" text-anchor="middle" textLength="11.9" lengthAdjust="spacingAndGlyphs">0</text>
<rect x="1562.6" y="897" width="26.7" height="36.6" filter="url(#sh)"/>
<rect x="1563.2" y="897.6" width="25.5" height="35.4" fill="#70b040" fill-opacity="0.36" stroke="#ffffff" stroke-opacity="0.62" stroke-width="1.2"/>
<text class="dl" x="1576.25" y="923.9" text-anchor="middle" textLength="11.9" lengthAdjust="spacingAndGlyphs">0</text>
<rect x="1706.6" y="897" width="26.7" height="36.6" filter="url(#sh)"/>
<rect x="1707.2" y="897.6" width="25.5" height="35.4" fill="#70b040" fill-opacity="0.36" stroke="#ffffff" stroke-opacity="0.62" stroke-width="1.2"/>
<text class="dl" x="1720.25" y="923.9" text-anchor="middle" textLength="11.9" lengthAdjust="spacingAndGlyphs">0</text>
<rect x="112.95" y="290.1" width="93.9" height="36.6" filter="url(#sh)"/>
<rect x="113.55" y="290.7" width="92.7" height="35.4" fill="#1f5c9a" fill-opacity="0.42" stroke="#ffffff" stroke-opacity="0.62" stroke-width="1.2"/>
<text class="dl" x="160.2" y="317" text-anchor="middle" textLength="79.1" lengthAdjust="spacingAndGlyphs">22.9318</text>
<rect x="257.03" y="309.53" width="93.9" height="36.6" filter="url(#sh)"/>
<rect x="257.63" y="310.13" width="92.7" height="35.4" fill="#1f5c9a" fill-opacity="0.42" stroke="#ffffff" stroke-opacity="0.62" stroke-width="1.2"/>
<text class="dl" x="304.28" y="336.43" text-anchor="middle" textLength="79.1" lengthAdjust="spacingAndGlyphs">22.1976</text>
<rect x="401.11" y="285.37" width="93.9" height="36.6" filter="url(#sh)"/>
<rect x="401.71" y="285.97" width="92.7" height="35.4" fill="#1f5c9a" fill-opacity="0.42" stroke="#ffffff" stroke-opacity="0.62" stroke-width="1.2"/>
<text class="dl" x="448.36" y="312.27" text-anchor="middle" textLength="79.1" lengthAdjust="spacingAndGlyphs">23.1105</text>
<rect x="545.19" y="297.03" width="93.9" height="36.6" filter="url(#sh)"/>
<rect x="545.79" y="297.63" width="92.7" height="35.4" fill="#1f5c9a" fill-opacity="0.42" stroke="#ffffff" stroke-opacity="0.62" stroke-width="1.2"/>
<text class="dl" x="592.44" y="323.93" text-anchor="middle" textLength="79.1" lengthAdjust="spacingAndGlyphs">22.6697</text>
<rect x="689.27" y="330.53" width="93.9" height="36.6" filter="url(#sh)"/>
<rect x="689.87" y="331.13" width="92.7" height="35.4" fill="#1f5c9a" fill-opacity="0.42" stroke="#ffffff" stroke-opacity="0.62" stroke-width="1.2"/>
<text class="dl" x="736.52" y="357.43" text-anchor="middle" textLength="79.1" lengthAdjust="spacingAndGlyphs">21.4041</text>
<rect x="833.35" y="302.64" width="93.9" height="36.6" filter="url(#sh)"/>
<rect x="833.95" y="303.24" width="92.7" height="35.4" fill="#1f5c9a" fill-opacity="0.42" stroke="#ffffff" stroke-opacity="0.62" stroke-width="1.2"/>
<text class="dl" x="880.6" y="329.54" text-anchor="middle" textLength="79.1" lengthAdjust="spacingAndGlyphs">22.4577</text>
<rect x="977.43" y="299.52" width="93.9" height="36.6" filter="url(#sh)"/>
<rect x="978.03" y="300.12" width="92.7" height="35.4" fill="#1f5c9a" fill-opacity="0.42" stroke="#ffffff" stroke-opacity="0.62" stroke-width="1.2"/>
<text class="dl" x="1024.68" y="326.42" text-anchor="middle" textLength="79.1" lengthAdjust="spacingAndGlyphs">22.5757</text>
<rect x="1121.51" y="295.25" width="93.9" height="36.6" filter="url(#sh)"/>
<rect x="1122.11" y="295.85" width="92.7" height="35.4" fill="#1f5c9a" fill-opacity="0.42" stroke="#ffffff" stroke-opacity="0.62" stroke-width="1.2"/>
<text class="dl" x="1168.76" y="322.15" text-anchor="middle" textLength="79.1" lengthAdjust="spacingAndGlyphs">22.7371</text>
<rect x="1265.59" y="286.16" width="93.9" height="36.6" filter="url(#sh)"/>
<rect x="1266.19" y="286.76" width="92.7" height="35.4" fill="#1f5c9a" fill-opacity="0.42" stroke="#ffffff" stroke-opacity="0.62" stroke-width="1.2"/>
<text class="dl" x="1312.84" y="313.06" text-anchor="middle" textLength="79.1" lengthAdjust="spacingAndGlyphs">23.0806</text>
<rect x="1409.67" y="294.16" width="93.9" height="36.6" filter="url(#sh)"/>
<rect x="1410.27" y="294.76" width="92.7" height="35.4" fill="#1f5c9a" fill-opacity="0.42" stroke="#ffffff" stroke-opacity="0.62" stroke-width="1.2"/>
<text class="dl" x="1456.92" y="321.06" text-anchor="middle" textLength="79.1" lengthAdjust="spacingAndGlyphs">22.7782</text>
<rect x="1553.75" y="292.36" width="93.9" height="36.6" filter="url(#sh)"/>
<rect x="1554.35" y="292.96" width="92.7" height="35.4" fill="#1f5c9a" fill-opacity="0.42" stroke="#ffffff" stroke-opacity="0.62" stroke-width="1.2"/>
<text class="dl" x="1601" y="319.26" text-anchor="middle" textLength="79.1" lengthAdjust="spacingAndGlyphs">22.8461</text>
<rect x="1697.83" y="294.67" width="93.9" height="36.6" filter="url(#sh)"/>
<rect x="1698.43" y="295.27" width="92.7" height="35.4" fill="#1f5c9a" fill-opacity="0.42" stroke="#ffffff" stroke-opacity="0.62" stroke-width="1.2"/>
<text class="dl" x="1745.08" y="321.57" text-anchor="middle" textLength="79.1" lengthAdjust="spacingAndGlyphs">22.7588</text>
<text class="ax" x="108.3" y="980" text-anchor="middle" textLength="32.6" lengthAdjust="spacingAndGlyphs">Jan</text>
<text class="ax" x="252.4" y="980" text-anchor="middle" textLength="36" lengthAdjust="spacingAndGlyphs">Feb</text>
<text class="ax" x="396.5" y="980" text-anchor="middle" textLength="40.6" lengthAdjust="spacingAndGlyphs">Mar</text>
<text class="ax" x="540.6" y="980" text-anchor="middle" textLength="35.3" lengthAdjust="spacingAndGlyphs">Apr</text>
<text class="ax" x="684.7" y="980" text-anchor="middle" textLength="43.1" lengthAdjust="spacingAndGlyphs">May</text>
<text class="ax" x="828.8" y="980" text-anchor="middle" textLength="33.5" lengthAdjust="spacingAndGlyphs">Jun</text>
<text class="ax" x="972.9" y="980" text-anchor="middle" textLength="25.4" lengthAdjust="spacingAndGlyphs">Jul</text>
<text class="ax" x="1117" y="980" text-anchor="middle" textLength="38.5" lengthAdjust="spacingAndGlyphs">Aug</text>
<text class="ax" x="1261.1" y="980" text-anchor="middle" textLength="36" lengthAdjust="spacingAndGlyphs">Sep</text>
<text class="ax" x="1405.2" y="980" text-anchor="middle" textLength="35.2" lengthAdjust="spacingAndGlyphs">Oct</text>
<text class="ax" x="1548.6" y="980" text-anchor="middle" textLength="38.6" lengthAdjust="spacingAndGlyphs">Nov</text>
<text class="ax" x="1693.4" y="980" text-anchor="middle" textLength="36.4" lengthAdjust="spacingAndGlyphs">Dec</text>
</g>
</svg>
</body></html>
